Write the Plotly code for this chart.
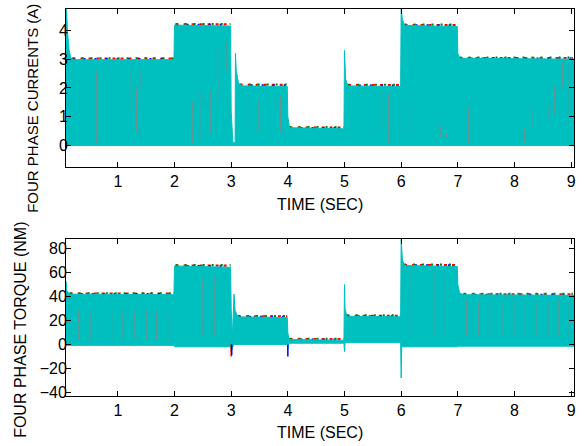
import plotly.graph_objects as go

# ---------------- data ----------------
# Phase currents: upper envelope of the dense switching waveform
cur_top_t = [0.085, 0.095, 0.11, 0.14, 0.17, 0.2, 1.99, 2.0, 2.03, 2.99, 3.0, 3.03, 3.07, 3.075, 3.09, 3.13, 3.2,
             3.99, 4.0, 4.03, 4.99, 5.0, 5.02, 5.06, 5.99, 6.0, 6.02, 6.06, 6.99, 7.0, 7.03, 9.05]
cur_top_v = [4.75, 4.7, 4.0, 3.3, 3.05, 2.98, 2.98, 4.18, 4.18, 4.15, 1.2, 0.1, 0.1, 3.2, 2.6, 2.15, 2.07,
             2.05, 1.0, 0.62, 0.58, 3.3, 2.3, 2.07, 2.05, 4.75, 4.4, 4.17, 4.13, 3.2, 3.03, 3.0]
cur_bot_t = [0.085, 9.05]
cur_bot_v = [0.0, 0.0]

# plateau segments (start, end, level) used for the phase tips
cur_seg_start = [0.2, 2.02, 3.15, 4.03, 5.06, 6.06, 7.03]
cur_seg_end = [1.99, 2.99, 3.99, 4.99, 5.99, 6.99, 9.03]
cur_seg_level = [2.98, 4.17, 2.07, 0.59, 2.06, 4.15, 3.0]

# darker switching lines inside the band: time, low, high
cur_line_t = [0.62, 1.21, 1.33, 1.41, 2.32, 2.47, 2.64, 2.79, 2.91, 3.29, 3.49, 3.87,
              5.30, 5.65, 5.78, 6.04, 6.18, 6.69, 6.80, 7.19, 8.18, 8.33, 8.59, 8.71, 8.85, 8.94]
cur_line_lo = [0.1, 1.2, 0.5, 2.0, 0.05, 0.2, 0.4, 1.5, 2.6, 0.5, 0.5, 0.5,
               0.8, 0.5, 0.1, 0.1, 0.3, 0.3, 0.3, 0.1, 0.1, 0.6, 0.9, 1.1, 2.0, 1.0]
cur_line_hi = [2.6, 2.5, 2.0, 2.6, 1.55, 1.9, 1.9, 3.5, 3.6, 1.8, 1.6, 1.7,
               1.7, 1.9, 1.8, 1.3, 1.5, 0.7, 0.4, 1.3, 0.6, 1.3, 1.4, 2.1, 2.9, 2.8]

# Phase torque: upper and lower envelopes
tq_top_t = [0.085, 0.1, 0.15, 1.99, 2.0, 2.99, 3.0, 3.02, 3.05, 3.07, 3.12, 3.99, 4.0, 4.02, 4.99, 5.0, 5.01,
            5.04, 5.99, 6.0, 6.02, 6.05, 6.99, 7.0, 7.03, 7.1, 9.05]
tq_top_v = [53, 45, 42, 41.5, 65.5, 64.5, 30, 5, 42, 28, 23, 22.5, 10, 4, 3.5, 50, 30,
            23.5, 23, 88, 72, 66, 65, 50, 43, 41.5, 41]
tq_bot_t = [0.085, 1.99, 2.0, 2.99, 3.0, 3.02, 3.05, 3.99, 4.0, 4.01, 4.99, 5.0, 5.01, 5.99, 6.0, 6.01,
            6.99, 7.0, 9.05]
tq_bot_v = [-0.8, -0.8, -2, -2, -6, -3, 0, 0, -4, 1, 1, -6, 1.5, 1.5, -28, -2,
            -2, -1.5, -1.5]

tq_seg_start = [0.15, 2.02, 3.12, 4.03, 5.04, 6.05, 7.1]
tq_seg_end = [1.99, 2.99, 3.99, 4.99, 5.99, 6.99, 9.03]
tq_seg_level = [41.5, 65, 22.5, 3.5, 23, 65.5, 41]

tq_line_t = [0.30, 0.51, 0.71, 0.92, 1.09, 1.30, 1.50, 1.68, 1.88, 2.3, 2.5, 2.7,
             6.18, 6.60, 6.78, 7.15, 7.36, 7.59, 7.80, 8.01, 8.19, 8.38, 8.59, 8.77, 8.94]
tq_line_lo = [4, 4, 4, 4, 4, 4, 4, 4, 4, 8, 8, 8,
              7, 7, 7, 7, 7, 7, 7, 7, 7, 7, 7, 7, 7]
tq_line_hi = [29, 28, 28, 29, 28, 28, 29, 28, 29, 60, 55, 58,
              65, 60, 60, 37, 36, 37, 36, 37, 37, 36, 36, 37, 36]

# narrow coloured dips at the switching instants: time, value, colour
dip_t = [3.0, 4.0, 3.01]
dip_v = [-10, -10, -9]
dip_c = ["#FF0000", "#0000FF", "#0000FF"]

x_ticks = [1, 2, 3, 4, 5, 6, 7, 8, 9]
cur_ticks = [0, 1, 2, 3, 4]
tq_ticks = [-40, -20, 0, 20, 40, 60, 80]

CYAN = "#00BFBF"
PHASES = [("#FF0000", 0.035, "3px,5px"), ("#0000FF", 0.02, "2px,9px"), ("#008000", 0.05, "2px,7px")]

fig = go.Figure()


def add_panel(xa, ya, top_t, top_v, bot_t, bot_v, seg_s, seg_e, seg_l, px_unit, lt, llo, lhi):
    # coloured phase tips sitting just above the band
    for col, off, dash in PHASES:
        xs, ys = [], []
        for s, e, l in zip(seg_s, seg_e, seg_l):
            xs += [s, e, None]
            ys += [l + off * px_unit, l + off * px_unit, None]
        fig.add_trace(go.Scatter(x=xs, y=ys, mode="lines", xaxis=xa, yaxis=ya,
                                 line=dict(color=col, width=2.2, dash=dash), hoverinfo="skip"))
    # cyan switching band
    fig.add_trace(go.Scatter(x=top_t + bot_t[::-1], y=top_v + bot_v[::-1], mode="lines",
                             fill="toself", fillcolor=CYAN, line=dict(color=CYAN, width=1),
                             xaxis=xa, yaxis=ya, hoverinfo="skip"))
    # darker switching lines
    xs, ys = [], []
    for t, lo, hi in zip(lt, llo, lhi):
        xs += [t, t, None]
        ys += [lo, hi, None]
    fig.add_trace(go.Scatter(x=xs, y=ys, mode="lines", xaxis=xa, yaxis=ya,
                             line=dict(color="#6f8f8f", width=1), hoverinfo="skip"))


add_panel("x", "y", cur_top_t, cur_top_v, cur_bot_t, cur_bot_v,
          cur_seg_start, cur_seg_end, cur_seg_level, 1.0, cur_line_t, cur_line_lo, cur_line_hi)
add_panel("x2", "y2", tq_top_t, tq_top_v, tq_bot_t, tq_bot_v,
          tq_seg_start, tq_seg_end, tq_seg_level, 24.0, tq_line_t, tq_line_lo, tq_line_hi)

for t, v, c in zip(dip_t, dip_v, dip_c):
    fig.add_trace(go.Scatter(x=[t, t], y=[0, v], mode="lines", xaxis="x2", yaxis="y2",
                             line=dict(color=c, width=1.5), hoverinfo="skip"))

FONT = "Liberation Sans, Arial, sans-serif"
axis_common = dict(showline=True, linecolor="black", linewidth=1, mirror="ticks",
                   ticks="inside", ticklen=5, tickcolor="black", tickwidth=1,
                   showgrid=False, zeroline=False,
                   tickfont=dict(family=FONT, size=16, color="black"))

fig.update_layout(
    width=584, height=446,
    margin=dict(l=66, r=8, t=8, b=50),
    paper_bgcolor="white", plot_bgcolor="white",
    showlegend=False,
    xaxis=dict(domain=[0, 1], anchor="y", range=[0.085, 9.05], tickvals=x_ticks, **axis_common),
    yaxis=dict(domain=[0.5928, 1], anchor="x", range=[-0.73, 4.74], tickvals=cur_ticks,
               ticklabelstandoff=-6, **axis_common),
    xaxis2=dict(domain=[0, 1], anchor="y2", range=[0.085, 9.05], tickvals=x_ticks, **axis_common),
    yaxis2=dict(domain=[0, 0.4046], anchor="x2", range=[-43.1, 87.7], tickvals=tq_ticks,
                ticklabelstandoff=-5, **axis_common),
    annotations=[
        dict(text="TIME (SEC)", x=0.5, y=0.4948, xref="paper", yref="paper", showarrow=False,
             xanchor="center", yanchor="middle", font=dict(family=FONT, size=16, color="black")),
        dict(text="TIME (SEC)", x=0.5, y=-0.0954, xref="paper", yref="paper", showarrow=False,
             xanchor="center", yanchor="middle", font=dict(family=FONT, size=16, color="black")),
        dict(text="FOUR PHASE CURRENTS (A)", x=-0.0647, y=(396 - 108) / 388, xref="paper", yref="paper",
             showarrow=False, textangle=-90, xanchor="center", yanchor="middle",
             font=dict(family=FONT, size=15, color="black")),
        dict(text="FOUR PHASE TORQUE (NM)", x=-0.0902, y=0.1714, xref="paper", yref="paper",
             showarrow=False, textangle=-90, xanchor="center", yanchor="middle",
             font=dict(family=FONT, size=16, color="black")),
    ],
)

fig.write_html("out.html")
